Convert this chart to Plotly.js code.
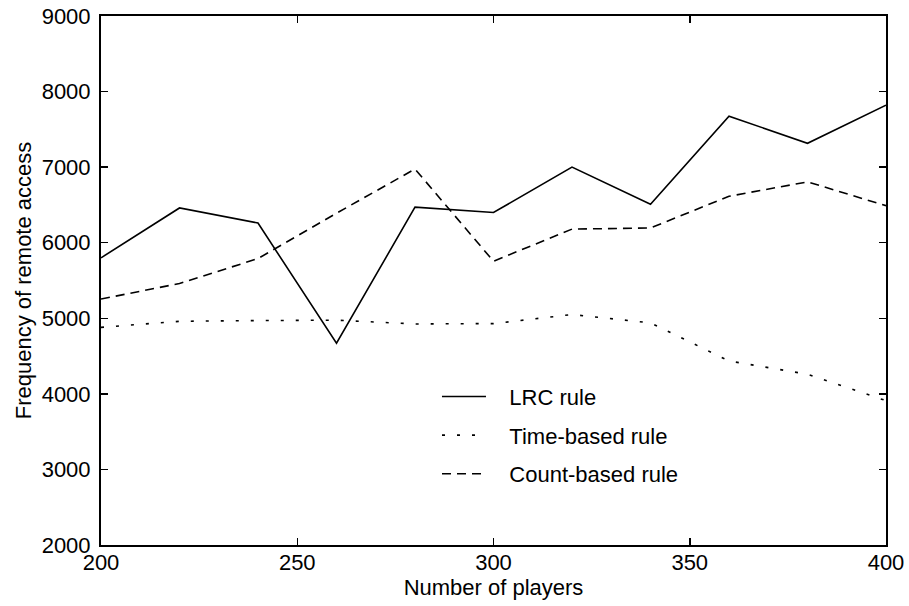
<!DOCTYPE html>
<html>
<head>
<meta charset="utf-8">
<script src="https://cdn.plot.ly/plotly-3.0.1.min.js"></script>
<style>
  html, body { margin: 0; padding: 0; background: #fff; }
  #chart { width: 909px; height: 606px; }
</style>
</head>
<body>
<div id="chart"></div>
<script>
// Number of players on the x axis
const players = [200, 220, 240, 260, 280, 300, 320, 340, 360, 380, 400];

// Frequency of remote access for each replacement rule
const lrcRule = [5800, 6460, 6260, 4670, 6470, 6400, 7000, 6510, 7675, 7315, 7820];
const timeRule = [4880, 4960, 4970, 4975, 4925, 4930, 5050, 4940, 4435, 4260, 3910];
const countRule = [5255, 5460, 5790, 6390, 6975, 5755, 6180, 6195, 6615, 6805, 6490];

const seriesNames = ['LRC rule', 'Time-based rule', 'Count-based rule'];
const xTicks = [200, 250, 300, 350, 400];
const yTicks = [2000, 3000, 4000, 5000, 6000, 7000, 8000, 9000];

const FONT = 'Liberation Sans, Arial, Helvetica, sans-serif';
const PAD = '\u00a0\u00a0\u00a0';

function series(y, name, dash, group) {
  return {
    x: players, y: y, name: PAD + name, type: 'scatter', mode: 'lines',
    legendgroup: group,
    line: { color: '#000', width: 1.6, dash: dash },
    hoverinfo: 'skip'
  };
}

const data = [
  series(lrcRule, seriesNames[0], 'solid', 'a'),
  series(timeRule, seriesNames[1], '3px,12px', 'b'),
  series(countRule, seriesNames[2], '9px,6px', 'c')
];

const axisCommon = {
  showgrid: false, zeroline: false,
  showline: true, linecolor: '#000', linewidth: 2, mirror: 'allticks',
  ticks: 'inside', ticklen: 7, tickwidth: 1.5, tickcolor: '#000',
  tickfont: { family: FONT, size: 22, color: '#000' }
};

const layout = {
  width: 909, height: 606,
  paper_bgcolor: '#fff', plot_bgcolor: '#fff',
  margin: { l: 101, r: 23, t: 16, b: 61 },
  font: { family: FONT, color: '#000' },
  xaxis: Object.assign({}, axisCommon, {
    range: [200, 400], tickvals: xTicks, ticktext: xTicks.map(String),
    ticklabelstandoff: -3,
    title: { text: 'Number of players', font: { family: FONT, size: 22 }, standoff: 2 }
  }),
  yaxis: Object.assign({}, axisCommon, {
    range: [2000, 9000], tickvals: yTicks, ticktext: yTicks.map(String),
    ticklabelstandoff: 4,
    title: { text: 'Frequency of remote access', font: { family: FONT, size: 22 }, standoff: 4 }
  }),
  showlegend: true,
  legend: {
    x: 0.428, y: 0.32, xanchor: 'left', yanchor: 'top',
    bgcolor: 'rgba(0,0,0,0)', borderwidth: 0,
    font: { family: FONT, size: 22, color: '#000' },
    itemwidth: 44, traceorder: 'grouped', tracegroupgap: 7
  }
};

Plotly.newPlot('chart', data, layout, { displayModeBar: false, staticPlot: true });
</script>
</body>
</html>
